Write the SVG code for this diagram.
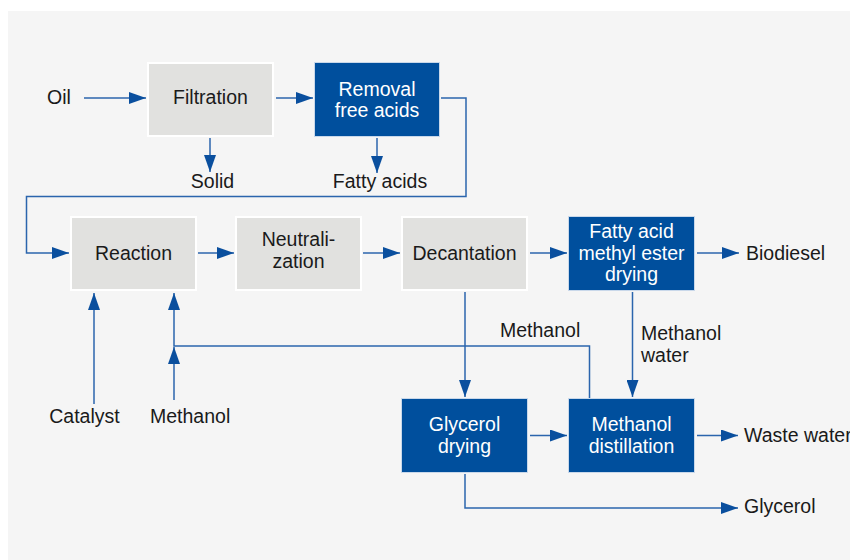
<svg xmlns="http://www.w3.org/2000/svg" width="850" height="560" viewBox="0 0 850 560">
<defs>
<style>
.bg{fill:#f5f5f5}
.gbox{fill:#e1e1df;stroke:#ffffff;stroke-width:2}
.bbox{fill:#004f9d;stroke:#c9d8ea;stroke-width:1}
.t{font-family:"Liberation Sans",Arial,Helvetica,sans-serif;font-size:19.5px;fill:#1a1a1a}
.tw{font-family:"Liberation Sans",Arial,Helvetica,sans-serif;font-size:19.5px;fill:#ffffff}
.c{text-anchor:middle}
.ln{fill:none;stroke:#2b65ad;stroke-width:1.5}
.ar{marker-end:url(#ah)}
</style>
<marker id="ah" markerUnits="userSpaceOnUse" markerWidth="17" markerHeight="12" viewBox="0 0 17 12" refX="17" refY="6" orient="auto">
<path d="M0,0 L17,6 L0,12 Z" fill="#0a4f9e"/>
</marker>
</defs>
<rect x="0" y="0" width="850" height="560" fill="#ffffff"/>
<rect class="bg" x="8" y="11" width="842" height="549"/>

<g id="connectors">
<path class="ln ar" d="M84,98 H146"/>
<path class="ln ar" d="M276,98 H313"/>
<path class="ln ar" d="M441,98 H466 V196.5 H26.5 V253 H69"/>
<path class="ln ar" d="M210,138 V172"/>
<path class="ln ar" d="M377,138 V173"/>
<path class="ln ar" d="M198,253 H234"/>
<path class="ln ar" d="M363,253 H400"/>
<path class="ln ar" d="M530,253 H567"/>
<path class="ln ar" d="M697,253 H739"/>
<path class="ln ar" d="M465,292 V397"/>
<path class="ln ar" d="M632.5,292 V397"/>
<path class="ln ar" d="M589.5,398 V346 H174 V293"/>
<path class="ln ar" d="M174,400 V347"/>
<path class="ln ar" d="M94,404 V293"/>
<path class="ln ar" d="M530,435.5 H567"/>
<path class="ln ar" d="M697,435.5 H738"/>
<path class="ln ar" d="M465,474 V508 H738"/>
</g>

<g id="filtration"><rect class="gbox" x="148" y="63" width="125" height="73"/><text class="t c" x="210.5" y="104">Filtration</text></g>
<g id="removal"><rect class="bbox" x="314.5" y="62.5" width="125" height="74"/><text class="tw c" x="377" y="96">Removal</text><text class="tw c" x="377" y="117">free acids</text></g>
<g id="reaction"><rect class="gbox" x="71" y="217" width="125" height="73"/><text class="t c" x="133.5" y="259.5">Reaction</text></g>
<g id="neutralization"><rect class="gbox" x="236" y="217" width="125" height="73"/><text class="t c" x="298.5" y="246">Neutrali-</text><text class="t c" x="298.5" y="268">zation</text></g>
<g id="decantation"><rect class="gbox" x="402" y="217" width="125" height="73"/><text class="t c" x="464.5" y="259.5">Decantation</text></g>
<g id="fame"><rect class="bbox" x="568.5" y="216.5" width="126" height="74"/><text class="tw c" x="631.5" y="237.5">Fatty acid</text><text class="tw c" x="631.5" y="259.5">methyl ester</text><text class="tw c" x="631.5" y="281">drying</text></g>
<g id="glycerol-drying"><rect class="bbox" x="401.5" y="398.5" width="126" height="74"/><text class="tw c" x="464.5" y="431">Glycerol</text><text class="tw c" x="464.5" y="453">drying</text></g>
<g id="methanol-distillation"><rect class="bbox" x="568.5" y="398.5" width="126" height="74"/><text class="tw c" x="631.5" y="431">Methanol</text><text class="tw c" x="631.5" y="453">distillation</text></g>

<g id="labels">
<text class="t" x="47" y="104">Oil</text>
<text class="t c" x="212.5" y="188">Solid</text>
<text class="t c" x="380" y="188">Fatty acids</text>
<text class="t" x="746" y="260">Biodiesel</text>
<text class="t" x="500" y="337">Methanol</text>
<text class="t" x="641" y="339.5">Methanol</text>
<text class="t" x="641" y="362">water</text>
<text class="t c" x="84.5" y="423">Catalyst</text>
<text class="t" x="150" y="423">Methanol</text>
<text class="t" x="744" y="442">Waste water</text>
<text class="t" x="744" y="513">Glycerol</text>
</g>
</svg>
